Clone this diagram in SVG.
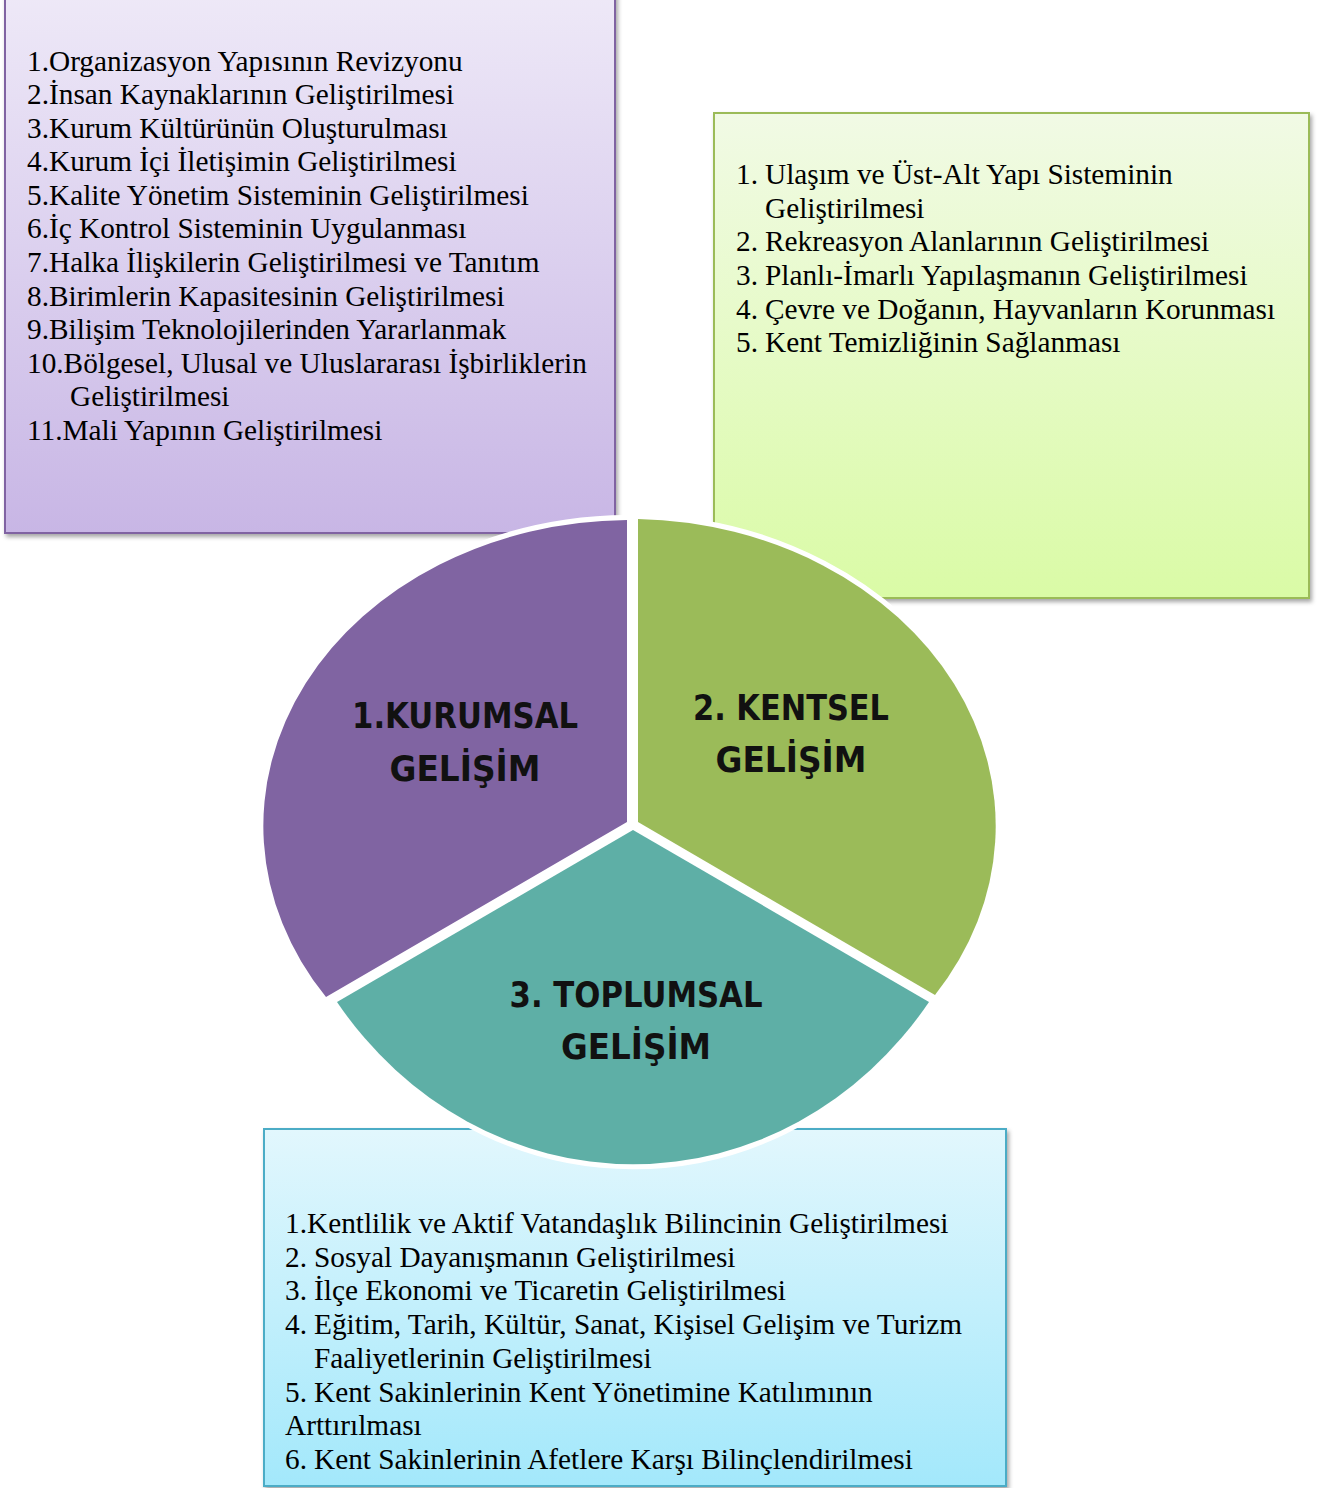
<svg xmlns="http://www.w3.org/2000/svg" width="1320" height="1488" viewBox="0 0 1320 1488">
<defs>
<linearGradient id="gPurple" x1="0" y1="0" x2="0" y2="1">
<stop offset="0" stop-color="#EFEAF8"/>
<stop offset="1" stop-color="#C8B6E5"/>
</linearGradient>
<linearGradient id="gGreen" x1="0" y1="0" x2="0" y2="1">
<stop offset="0" stop-color="#F1FAE5"/>
<stop offset="1" stop-color="#DAFBA6"/>
</linearGradient>
<linearGradient id="gBlue" x1="0" y1="0" x2="0" y2="1">
<stop offset="0" stop-color="#E2F7FD"/>
<stop offset="1" stop-color="#A3E8FB"/>
</linearGradient>
<filter id="shadow" x="-5%" y="-5%" width="110%" height="112%">
<feDropShadow dx="2" dy="3" stdDeviation="2" flood-color="#000" flood-opacity="0.35"/>
</filter>
</defs>
<style>
.box-text{font-family:"Liberation Serif","Times New Roman",serif;font-size:29.3px;fill:#000;}
.slice{stroke:#FFFFFF;stroke-width:10;stroke-linejoin:miter;paint-order:stroke;}
.label{font-family:"DejaVu Sans",Verdana,sans-serif;font-weight:bold;font-size:35px;fill:#111;}
</style>

<g id="box-kurumsal">
<rect x="5" y="-20" width="610" height="553" fill="url(#gPurple)" stroke="#8064A2" stroke-width="2" filter="url(#shadow)"/>
<g class="box-text">
<text x="27" y="71">1.Organizasyon Yapısının Revizyonu</text>
<text x="27" y="104">2.İnsan Kaynaklarının Geliştirilmesi</text>
<text x="27" y="138">3.Kurum Kültürünün Oluşturulması</text>
<text x="27" y="171">4.Kurum İçi İletişimin Geliştirilmesi</text>
<text x="27" y="205">5.Kalite Yönetim Sisteminin Geliştirilmesi</text>
<text x="27" y="238">6.İç Kontrol Sisteminin Uygulanması</text>
<text x="27" y="272">7.Halka İlişkilerin Geliştirilmesi ve Tanıtım</text>
<text x="27" y="306">8.Birimlerin Kapasitesinin Geliştirilmesi</text>
<text x="27" y="339">9.Bilişim Teknolojilerinden Yararlanmak</text>
<text x="27" y="373">10.Bölgesel, Ulusal ve Uluslararası İşbirliklerin</text>
<text x="70" y="406">Geliştirilmesi</text>
<text x="27" y="440">11.Mali Yapının Geliştirilmesi</text>
</g>
</g>

<g id="box-kentsel">
<rect x="714" y="113" width="595" height="485" fill="url(#gGreen)" stroke="#9BBB59" stroke-width="2" filter="url(#shadow)"/>
<g class="box-text">
<text x="736" y="184">1.</text><text x="765" y="184">Ulaşım ve Üst-Alt Yapı Sisteminin</text>
<text x="765" y="218">Geliştirilmesi</text>
<text x="736" y="251">2.</text><text x="765" y="251">Rekreasyon Alanlarının Geliştirilmesi</text>
<text x="736" y="285">3.</text><text x="765" y="285">Planlı-İmarlı Yapılaşmanın Geliştirilmesi</text>
<text x="736" y="319">4.</text><text x="765" y="319">Çevre ve Doğanın, Hayvanların Korunması</text>
<text x="736" y="352">5.</text><text x="765" y="352">Kent Temizliğinin Sağlanması</text>
</g>
</g>

<g id="box-toplumsal">
<rect x="264" y="1129" width="742" height="357" fill="url(#gBlue)" stroke="#4BACC6" stroke-width="2" filter="url(#shadow)"/>
<g class="box-text">
<text x="285" y="1233">1.Kentlilik ve Aktif Vatandaşlık Bilincinin Geliştirilmesi</text>
<text x="285" y="1267">2.</text><text x="314" y="1267">Sosyal Dayanışmanın Geliştirilmesi</text>
<text x="285" y="1300">3.</text><text x="314" y="1300">İlçe Ekonomi ve Ticaretin Geliştirilmesi</text>
<text x="285" y="1334">4.</text><text x="314" y="1334">Eğitim, Tarih, Kültür, Sanat, Kişisel Gelişim ve Turizm</text>
<text x="314" y="1368">Faaliyetlerinin Geliştirilmesi</text>
<text x="285" y="1402">5.</text><text x="314" y="1402">Kent Sakinlerinin Kent Yönetimine Katılımının</text>
<text x="285" y="1435">Arttırılması</text>
<text x="285" y="1469">6.</text><text x="314" y="1469">Kent Sakinlerinin Afetlere Karşı Bilinçlendirilmesi</text>
</g>
</g>

<g id="pie">
<g id="slice-kurumsal">
<path class="slice" fill="#8064A2" d="M 627 822 L 627 520 A 367 306 0 0 0 326 997 Z"/>
<text class="label" x="465" y="728" text-anchor="middle" textLength="226" lengthAdjust="spacingAndGlyphs">1.KURUMSAL</text>
<text class="label" x="465" y="781" text-anchor="middle" textLength="151" lengthAdjust="spacingAndGlyphs">GELİŞİM</text>
</g>
<g id="slice-kentsel">
<path class="slice" fill="#9BBB59" d="M 638 822 L 638 519 A 367 307 0 0 1 935 995 Z"/>
<text class="label" x="791" y="720" text-anchor="middle" textLength="196" lengthAdjust="spacingAndGlyphs">2. KENTSEL</text>
<text class="label" x="791" y="772" text-anchor="middle" textLength="151" lengthAdjust="spacingAndGlyphs">GELİŞİM</text>
</g>
<g id="slice-toplumsal">
<path class="slice" fill="#5EAFA6" d="M 633 830 L 929 1002 A 367 397 0 0 1 337 1002 Z"/>
<text class="label" x="636" y="1007" text-anchor="middle" textLength="253" lengthAdjust="spacingAndGlyphs">3. TOPLUMSAL</text>
<text class="label" x="636" y="1059" text-anchor="middle" textLength="150" lengthAdjust="spacingAndGlyphs">GELİŞİM</text>
</g>
</g>
<g id="connectors"/>
</svg>
